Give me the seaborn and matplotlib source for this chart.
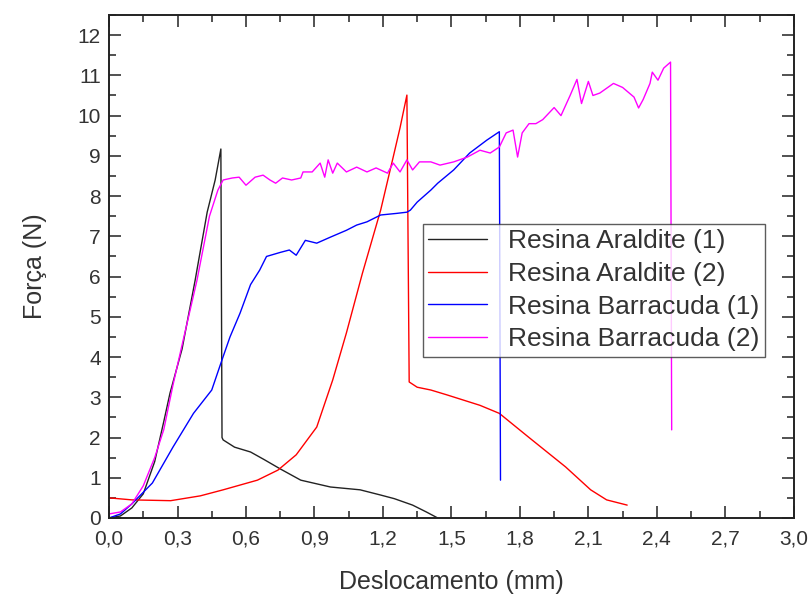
import numpy as np
import pandas as pd
import seaborn as sns
import matplotlib.pyplot as plt
from matplotlib.ticker import MultipleLocator, FuncFormatter

# Resina Araldite (1)
aral1_x = [0.0, 0.05, 0.10, 0.15, 0.20, 0.24, 0.267, 0.32, 0.377, 0.43, 0.465, 0.49,
           0.495, 0.50, 0.55, 0.62, 0.68, 0.75, 0.84, 0.97, 1.10, 1.19, 1.25, 1.33, 1.39, 1.44]
aral1_y = [0.0, 0.05, 0.25, 0.6, 1.4, 2.4, 3.1, 4.2, 5.9, 7.6, 8.4, 9.17,
           2.0, 1.94, 1.76, 1.64, 1.45, 1.22, 0.94, 0.77, 0.70, 0.57, 0.48, 0.32, 0.15, 0.0]

# Resina Araldite (2)
aral2_x = [0.0, 0.10, 0.27, 0.40, 0.50, 0.65, 0.74, 0.82, 0.91, 0.98, 1.04, 1.11,
           1.19, 1.245, 1.275, 1.305, 1.315, 1.35, 1.41, 1.48, 1.625, 1.71, 1.84,
           2.00, 2.11, 2.18, 2.27]
aral2_y = [0.5, 0.45, 0.43, 0.55, 0.70, 0.94, 1.19, 1.57, 2.26, 3.43, 4.6, 6.08,
           7.65, 8.97, 9.7, 10.51, 3.38, 3.25, 3.18, 3.06, 2.8, 2.6, 2.0,
           1.27, 0.7, 0.45, 0.32]

# Resina Barracuda (1)
barr1_x = [0.0, 0.05, 0.10, 0.19, 0.28, 0.37, 0.45, 0.495, 0.53, 0.574, 0.62, 0.66,
           0.69, 0.75, 0.79, 0.82, 0.86, 0.91, 0.97, 1.04, 1.085, 1.13, 1.19, 1.26,
           1.305, 1.32, 1.35, 1.41, 1.44, 1.51, 1.58, 1.655, 1.71, 1.715]
barr1_y = [0.0, 0.1, 0.35, 0.87, 1.76, 2.6, 3.18, 3.93, 4.5, 5.09, 5.8, 6.16,
           6.5, 6.6, 6.66, 6.53, 6.9, 6.83, 6.98, 7.15, 7.28, 7.36, 7.53, 7.57,
           7.6, 7.65, 7.85, 8.15, 8.32, 8.65, 9.07, 9.39, 9.6, 0.94]

# Resina Barracuda (2)
barr2_x = [0.0, 0.05, 0.10, 0.15, 0.20, 0.24, 0.28, 0.32, 0.385, 0.44, 0.477, 0.50,
           0.54, 0.57, 0.60, 0.64, 0.675, 0.705, 0.73, 0.76, 0.80, 0.84, 0.85, 0.89,
           0.925, 0.945, 0.96, 0.98, 1.00, 1.04, 1.085, 1.13, 1.17, 1.22, 1.245,
           1.275, 1.305, 1.33, 1.36, 1.41, 1.45, 1.51, 1.57, 1.625, 1.67, 1.71,
           1.74, 1.77, 1.79, 1.81, 1.84, 1.87, 1.90, 1.95, 1.98, 2.02, 2.05, 2.07,
           2.10, 2.12, 2.15, 2.21, 2.25, 2.30, 2.32, 2.34, 2.37, 2.38, 2.405, 2.43,
           2.46, 2.465]
barr2_y = [0.1, 0.15, 0.35, 0.8, 1.5, 2.2, 3.3, 4.3, 5.9, 7.5, 8.15, 8.4,
           8.45, 8.47, 8.27, 8.47, 8.52, 8.4, 8.32, 8.45, 8.4, 8.45, 8.6, 8.6,
           8.82, 8.47, 8.9, 8.57, 8.82, 8.6, 8.72, 8.6, 8.7, 8.57, 8.82,
           8.6, 8.9, 8.65, 8.85, 8.85, 8.77, 8.85, 8.97, 9.14, 9.07, 9.22,
           9.57, 9.64, 8.97, 9.57, 9.8, 9.8, 9.9, 10.2, 10.0, 10.5, 10.9, 10.3,
           10.85, 10.5, 10.56, 10.8, 10.7, 10.46, 10.19, 10.4, 10.8, 11.08, 10.88, 11.18,
           11.33, 2.19]

labels = ["Resina Araldite (1)", "Resina Araldite (2)",
          "Resina Barracuda (1)", "Resina Barracuda (2)"]
colors = ["#222222", "#ff0000", "#0000ff", "#ff00ff"]

frames = []
for name, xs, ys in zip(labels, [aral1_x, aral2_x, barr1_x, barr2_x],
                        [aral1_y, aral2_y, barr1_y, barr2_y]):
    frames.append(pd.DataFrame({"x": xs, "y": ys, "serie": name}))
df = pd.concat(frames, ignore_index=True)

sns.set_theme(style="ticks")
plt.rcParams["font.family"] = ["Liberation Sans", "DejaVu Sans"]

fig = plt.figure(figsize=(8.1, 5.96), dpi=100)
ax = fig.add_axes([0.1346, 0.1309, 0.8454, 0.8439])

sns.lineplot(data=df, x="x", y="y", hue="serie", palette=dict(zip(labels, colors)),
             sort=False, estimator=None, linewidth=1.0, ax=ax)

ax.set_xlim(0, 3.0)
ax.set_ylim(0, 12.5)
ax.xaxis.set_major_locator(MultipleLocator(0.3))
ax.xaxis.set_minor_locator(MultipleLocator(0.15))
ax.yaxis.set_major_locator(MultipleLocator(1))
ax.yaxis.set_minor_locator(MultipleLocator(0.5))
ax.xaxis.set_major_formatter(FuncFormatter(lambda v, p: f"{v:.1f}".replace(".", ",")))
ax.yaxis.set_major_formatter(FuncFormatter(lambda v, p: f"{v:.0f}"))

ax.tick_params(which="both", direction="in", top=True, right=True, width=1.1,
               colors="#222222", labelcolor="#333333", labelsize=15)
ax.tick_params(which="major", length=8.5)
ax.tick_params(which="minor", length=5)
ax.tick_params(axis="x", which="major", pad=8)
ax.tick_params(axis="y", which="major", pad=6)
for s in ax.spines.values():
    s.set_linewidth(1.4)
    s.set_color("#222222")

ax.set_xlabel("Deslocamento (mm)", fontsize=18, color="#333333", labelpad=16)
ax.set_ylabel("Força (N)", fontsize=18, color="#333333", labelpad=22)

leg = ax.legend(loc="upper left", bbox_to_anchor=(0.458, 0.5845), fontsize=19,
                frameon=True, fancybox=False, handlelength=2.25, handletextpad=0.8,
                labelspacing=0.33, borderpad=0.2, borderaxespad=0)
leg.get_frame().set_edgecolor("#333333")
leg.get_frame().set_linewidth(1.0)
for t in leg.get_texts():
    t.set_color("#333333")

fig.savefig("out.png", dpi=100)
